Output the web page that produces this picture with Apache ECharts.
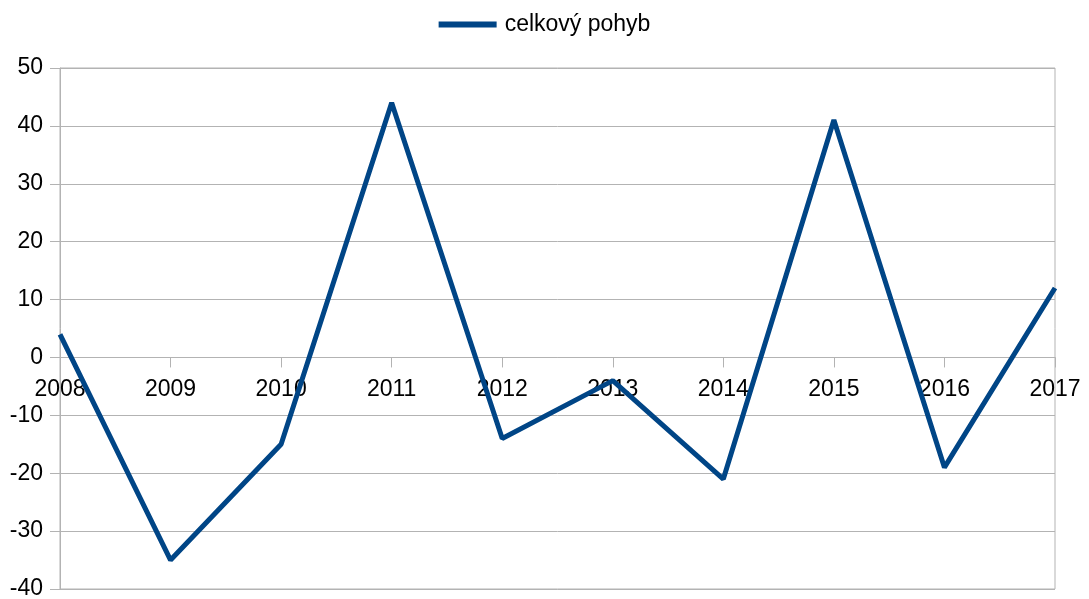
<!DOCTYPE html>
<html>
<head>
<meta charset="utf-8">
<script src="https://cdn.jsdelivr.net/npm/echarts@6/dist/echarts.min.js"></script>
<style>html,body{margin:0;padding:0;background:#fff}#c{width:1089px;height:599px}</style>
</head>
<body>
<div id="c"></div>
<script>
var categories = ['2008','2009','2010','2011','2012','2013','2014','2015','2016','2017'];
var values = [4, -35, -15, 44, -14, -4, -21, 41, -19, 12];
var seriesName = 'celkový pohyb';
var yMin = -40, yMax = 50, yStep = 10;

var chart = echarts.init(document.getElementById('c'));
var gray = '#b3b3b3';
var font = '"Liberation Sans", Arial, sans-serif';
var gridTop = 68, gridBottom = 10, H = 599;
var plotH = H - gridTop - gridBottom;
// x axis sits at value 0, placed via offset from bottom of grid
var zeroOffset = -(0 - yMin) / (yMax - yMin) * plotH;
chart.setOption({
  animation: false,
  textStyle: {fontFamily: font},
  legend: {
    top: 8, left: 'center',
    icon: 'rect', itemWidth: 58, itemHeight: 6,
    textStyle: {fontSize: 23, color: '#000', fontFamily: font, padding: [0, 0, 0, 3]},
    data: [seriesName]
  },
  grid: {left: 60, right: 34, top: gridTop, bottom: gridBottom, show: true, borderColor: gray, borderWidth: 1,
         containLabel: false, outerBoundsMode: 'none'},
  xAxis: {
    type: 'category', data: categories, boundaryGap: false,
    position: 'bottom', offset: zeroOffset,
    axisLine: {onZero: false, lineStyle: {color: gray}},
    axisTick: {show: true, length: 10, alignWithLabel: true, lineStyle: {color: gray}},
    axisLabel: {color: '#000', fontSize: 23, margin: 21, fontFamily: font, interval: 0, hideOverlap: false},
    splitLine: {show: false}
  },
  yAxis: {
    type: 'value', min: yMin, max: yMax, interval: yStep,
    axisLine: {show: true, lineStyle: {color: gray}},
    axisTick: {show: true, length: 10, lineStyle: {color: gray}},
    axisLabel: {color: '#000', fontSize: 23, margin: 17, fontFamily: font},
    splitLine: {show: true, lineStyle: {color: gray}}
  },
  series: [{
    name: seriesName, type: 'line', data: values,
    symbol: 'none', lineStyle: {color: '#004586', width: 5},
    itemStyle: {color: '#004586'}, z: 3
  }]
});
</script>
</body>
</html>
